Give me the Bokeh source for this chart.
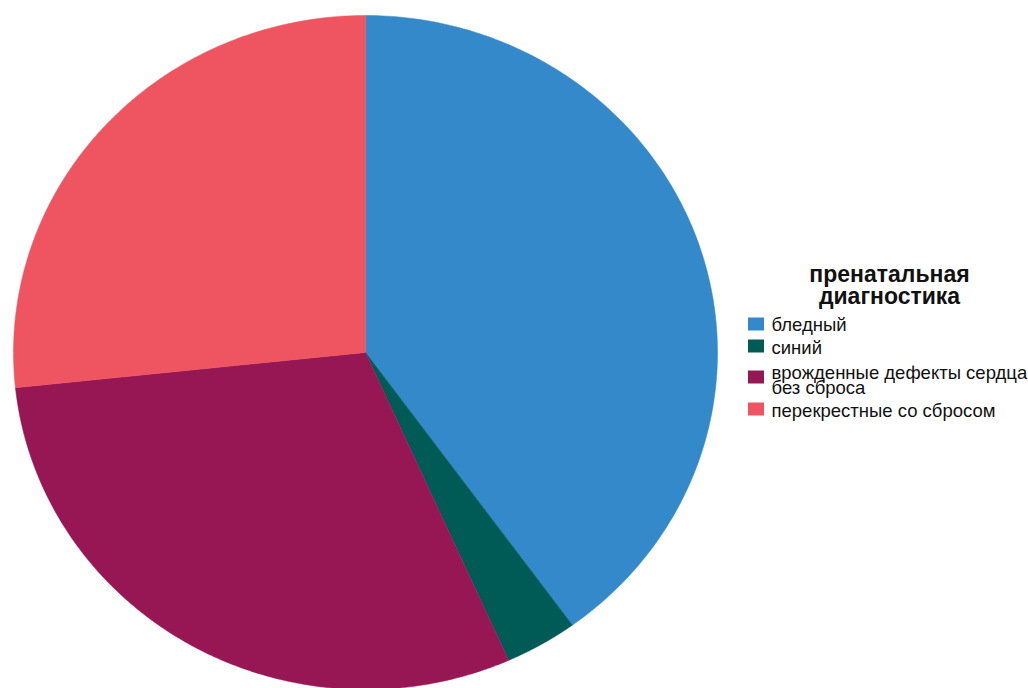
import numpy as np
from bokeh.plotting import figure
from bokeh.models import Range1d
from bokeh.core.properties import value
from bokeh.embed import file_html
from bokeh.resources import INLINE

# ---- data ----
categories = ["бледный", "синий", "врожденные дефекты сердца\nбез сброса", "перекрестные со сбросом"]
counts = [12, 1, 9, 8]
colors = ["#3389c9", "#005b56", "#971755", "#ef5561"]
legend_title = "пренатальная\nдиагностика"

# ---- layout ----
W, H = 1028, 688
cx, cy, rx, ry = 365, 352, 352, 337

p = figure(width=W, height=H, output_backend="svg", toolbar_location=None,
           x_range=Range1d(0, W), y_range=Range1d(H, 0), min_border=0)
p.axis.visible = False
p.grid.visible = False
p.outline_line_color = None
p.background_fill_color = "white"
p.border_fill_color = "white"

vals = np.array(counts, dtype=float)
ends = np.cumsum(vals) / vals.sum() * 2 * np.pi
starts = np.concatenate([[0.0], ends[:-1]])
xs, ys = [], []
for a0, a1 in zip(starts, ends):
    t = np.linspace(a0, a1, 200)
    xs.append(np.concatenate([[cx], cx + rx * np.sin(t), [cx]]).tolist())
    ys.append(np.concatenate([[cy], cy - ry * np.cos(t), [cy]]).tolist())
p.patches(xs=xs, ys=ys, fill_color=colors, line_color=colors, line_width=0.5)

# legend
font = value("Liberation Sans")
p.text(x=[889, 889], y=[273, 295], text=legend_title.split("\n"), text_font=font,
       text_font_style="bold", text_font_size="23px", text_align="center",
       text_baseline="middle", text_color="#111111")

sw_y = [323.5, 345.5, 376.5, 408.5]
p.rect(x=[755.5] * 4, y=sw_y, width=16, height=13, fill_color=colors, line_color=None)
lines, ly = [], []
text_y = [[324], [347], [372, 387], [410]]
for cat, tys in zip(categories, text_y):
    for ln, yy in zip(cat.split("\n"), tys):
        lines.append(ln)
        ly.append(yy)
p.text(x=[771] * len(lines), y=ly, text=lines, text_font=font, text_font_size="18.5px",
       text_align="left", text_baseline="middle", text_color="#111111")

open("out.html", "w").write(file_html(p, INLINE))
